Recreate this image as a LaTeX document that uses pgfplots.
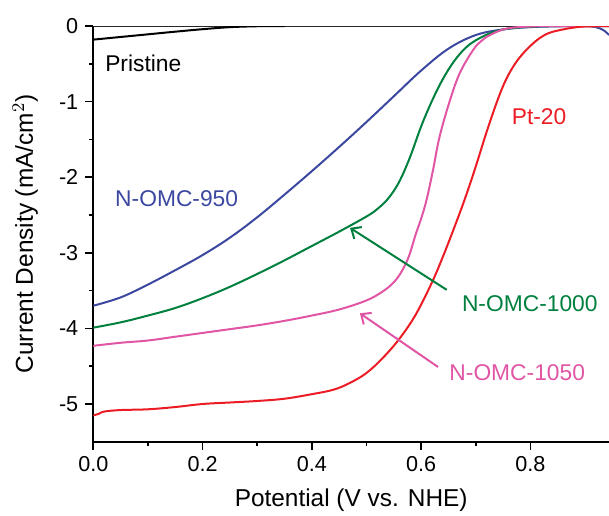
\documentclass[border=0pt]{standalone}
\usepackage{pgfplots}
\pgfplotsset{compat=1.18}
\usepackage{fontspec}
\setmainfont{Liberation Sans}
\usetikzlibrary{arrows.meta}
\definecolor{cblue}{RGB}{60,72,160}
\definecolor{cgreen}{RGB}{0,128,62}
\definecolor{cpink}{RGB}{225,85,165}
\definecolor{cred}{RGB}{236,28,36}
\begin{document}
\begin{tikzpicture}
\useasboundingbox (-46.65pt,-36.6pt) rectangle (257.85pt,220.9pt);
\begin{axis}[
  anchor=south west, at={(0,0)},
  scale only axis, width=257.85pt, height=207.9pt,
  xmin=0, xmax=0.944, ymin=-5.5, ymax=0,
  axis x line*=bottom, axis y line*=left,
  axis line style={line width=0.8pt, -},
  tick align=outside, tick style={line width=0.8pt, black},
  major tick length=4pt, minor tick length=2pt,
  xtick={0,0.2,0.4,0.6,0.8}, minor x tick num=1,
  ytick={-5,-4,-3,-2,-1,0}, minor y tick num=1,
  xticklabel style={/pgf/number format/.cd, fixed, fixed zerofill, precision=1},
  /pgf/number format/assume math mode=true,
  ticklabel style={font=\fontsize{10.8}{12}\selectfont},
  clip mode=individual,
]
\addplot[black!85, line width=1pt] coordinates {
(0,0) (0.944,0)};
\addplot[black, line width=1pt, smooth] coordinates {
(0,-0.18) (0.05,-0.145) (0.1,-0.11) (0.15,-0.075) (0.2,-0.042) (0.25,-0.015) (0.3,-0.003) (0.35,0)};
\addplot[cblue, line width=1pt, smooth, tension=0.6] coordinates {
(0,-3.70) (0.05,-3.59) (0.1,-3.42) (0.15,-3.23) (0.2,-3.03) (0.25,-2.80) (0.3,-2.53) (0.35,-2.23) (0.4,-1.92) (0.45,-1.60) (0.5,-1.27) (0.55,-0.93) (0.6,-0.59) (0.65,-0.30) (0.7,-0.12) (0.75,-0.045) (0.8,-0.015) (0.85,-0.004) (0.9,-0.001) (0.92,-0.015) (0.935,-0.06) (0.944,-0.12)};
\addplot[cgreen, line width=1pt, smooth, tension=0.6] coordinates {
(0,-3.99) (0.05,-3.92) (0.1,-3.83) (0.15,-3.73) (0.2,-3.60) (0.25,-3.45) (0.3,-3.28) (0.35,-3.10) (0.4,-2.91) (0.45,-2.72) (0.5,-2.52) (0.52,-2.42) (0.54,-2.28) (0.56,-2.06) (0.58,-1.73) (0.6,-1.33) (0.62,-0.99) (0.64,-0.70) (0.66,-0.47) (0.68,-0.30) (0.7,-0.19) (0.73,-0.085) (0.76,-0.035) (0.8,-0.01) (0.85,-0.002) (0.944,-0.001)};
\addplot[cpink, line width=1pt, smooth, tension=0.6] coordinates {
(0,-4.23) (0.05,-4.19) (0.1,-4.16) (0.15,-4.11) (0.2,-4.06) (0.25,-4.01) (0.3,-3.96) (0.35,-3.90) (0.4,-3.83) (0.45,-3.75) (0.5,-3.63) (0.53,-3.51) (0.55,-3.39) (0.565,-3.24) (0.578,-3.04) (0.59,-2.76) (0.6,-2.55) (0.61,-2.30) (0.622,-1.90) (0.634,-1.46) (0.653,-0.98) (0.671,-0.62) (0.695,-0.32) (0.71,-0.20) (0.726,-0.12) (0.756,-0.035) (0.8,-0.006) (0.85,-0.001) (0.944,-0.001)};
\addplot[cred, line width=1pt, smooth, tension=0.6] coordinates {
(0,-5.15) (0.01,-5.13) (0.02,-5.10) (0.05,-5.08) (0.1,-5.07) (0.15,-5.04) (0.2,-5.00) (0.25,-4.98) (0.3,-4.96) (0.35,-4.93) (0.4,-4.87) (0.44,-4.81) (0.47,-4.72) (0.5,-4.59) (0.53,-4.39) (0.56,-4.14) (0.59,-3.82) (0.62,-3.39) (0.64,-3.05) (0.66,-2.68) (0.68,-2.29) (0.70,-1.86) (0.72,-1.40) (0.74,-0.98) (0.756,-0.70) (0.772,-0.50) (0.787,-0.36) (0.802,-0.25) (0.817,-0.16) (0.835,-0.09) (0.86,-0.045) (0.88,-0.02) (0.9,-0.006) (0.944,-0.001)};
\node[anchor=west, font=\fontsize{11.4}{13}\selectfont] at (axis cs:0.009,-0.49) {Pristine};
\node[cblue, font=\fontsize{11.4}{13}\selectfont] at (axis cs:0.1526,-2.28) {N-OMC-950};
\node[cred, font=\fontsize{11.4}{13}\selectfont] at (axis cs:0.816,-1.20) {Pt-20};
\node[cgreen, font=\fontsize{11.4}{13}\selectfont] at (axis cs:0.799,-3.67) {N-OMC-1000};
\node[cpink, font=\fontsize{11.4}{13}\selectfont] at (axis cs:0.776,-4.59) {N-OMC-1050};
\draw[cgreen, line width=1pt, -{Straight Barb[length=4pt,width=7pt]}] (axis cs:0.647,-3.49) -- (axis cs:0.47,-2.67);
\draw[cpink, line width=1pt, -{Straight Barb[length=4pt,width=7pt]}] (axis cs:0.631,-4.51) -- (axis cs:0.488,-3.80);
\node[rotate=90, font=\fontsize{12.2}{14}\selectfont] at ([xshift=-34pt]rel axis cs:0,0.5) {Current Density (mA/cm$^2$)};
\node[font=\fontsize{12.2}{14}\selectfont] at ([yshift=-29pt]rel axis cs:0.5,0) {Potential (V vs. NHE)};
\end{axis}
\end{tikzpicture}
\end{document}
